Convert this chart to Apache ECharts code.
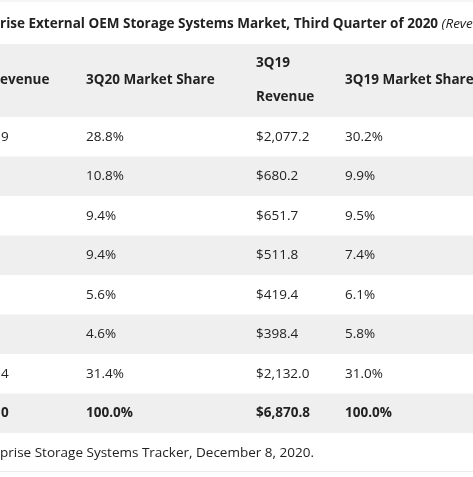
<!DOCTYPE html>
<html><head><meta charset="utf-8">
<script src="https://cdn.jsdelivr.net/npm/echarts@6/dist/echarts.min.js"></script>
<style>html,body{margin:0;padding:0;background:#fff}#c{width:473px;height:477px}</style>
</head><body><div id="c"></div>
<script>
// ---- data ----
const titleText = "rise External OEM Storage Systems Market, Third Quarter of 2020 ";
const titleNote = "(Revenues in US$ Millions)";
const headers = ["evenue", "3Q20 Market Share", "3Q19\nRevenue", "3Q19 Market Share"];
const revenue3Q20Visible = ["9", "", "", "", "", "", "4", "0"]; // only trailing characters visible
const share3Q20 = [28.8, 10.8, 9.4, 9.4, 5.6, 4.6, 31.4, 100.0];
const revenue3Q19 = [2077.2, 680.2, 651.7, 511.8, 419.4, 398.4, 2132.0, 6870.8];
const share3Q19 = [30.2, 9.9, 9.5, 7.4, 6.1, 5.8, 31.0, 100.0];
const footerText = "prise Storage Systems Tracker, December 8, 2020.";

// ---- layout ----
const colX = [1, 86, 256, 345];
const FONT = '"Open Sans", sans-serif';
const FS = '13.5px ';
const TXT = '#222222';
const GRAY = '#efefef';

function fmtPct(v){ return v.toFixed(1) + '%'; }
function fmtMoney(v){
  const s = v.toFixed(1).split('.');
  return '$' + s[0].replace(/\B(?=(\d{3})+(?!\d))/g, ',') + '.' + s[1];
}

const nRows = share3Q20.length;
const rowIdx = share3Q20.map((_, i) => i);
const cells = [];
for (let i = 0; i < nRows; i++) {
  const bold = i === nRows - 1 ? 1 : 0;
  cells.push([colX[0], i, revenue3Q20Visible[i], bold]);
  cells.push([colX[1], i, fmtPct(share3Q20[i]), bold]);
  cells.push([colX[2], i, fmtMoney(revenue3Q19[i]), bold]);
  cells.push([colX[3], i, fmtPct(share3Q19[i]), bold]);
}

const chart = echarts.init(document.getElementById('c'), null, {renderer: 'canvas'});
chart.setOption({
  animation: false,
  backgroundColor: '#fff',
  grid: {left: 0, right: 0, top: 117, height: 316},
  xAxis: {type: 'value', min: 0, max: 473, show: false},
  yAxis: {type: 'category', data: rowIdx, inverse: true, show: false},
  graphic: [
    {type: 'rect', shape: {x: 0, y: 0, width: 473, height: 2}, style: {fill: '#f6f6f6'}},
    {type: 'text', x: 0, y: 24, style: {
      text: '{b|' + titleText + '}{i|' + titleNote + '}',
      verticalAlign: 'middle',
      rich: {
        b: {fontFamily: FONT, fontSize: 13.5, fontWeight: 'bold', fill: TXT},
        i: {fontFamily: FONT, fontSize: 13.5, fontStyle: 'italic', fill: TXT}
      }
    }},
    {type: 'rect', shape: {x: 0, y: 44, width: 473, height: 73}, style: {fill: GRAY}},
    {type: 'text', x: colX[0] - 1, y: 80, style: {text: headers[0], font: 'bold ' + FS + FONT, fill: TXT, verticalAlign: 'middle'}},
    {type: 'text', x: colX[1], y: 80, style: {text: headers[1], font: 'bold ' + FS + FONT, fill: TXT, verticalAlign: 'middle'}},
    {type: 'text', x: colX[2], y: 80, style: {text: headers[2], font: 'bold ' + FS + FONT, lineHeight: 34, fill: TXT, verticalAlign: 'middle'}},
    {type: 'text', x: colX[3], y: 80, style: {text: headers[3], font: 'bold ' + FS + FONT, fill: TXT, verticalAlign: 'middle'}},
    {type: 'text', x: 0, y: 453, style: {text: footerText, font: FS + FONT, fill: TXT, verticalAlign: 'middle'}},
    {type: 'rect', shape: {x: 0, y: 471, width: 473, height: 1}, style: {fill: '#ececec'}}
  ],
  series: [
    {
      type: 'custom', silent: true,
      data: rowIdx.map(i => [0, i]),
      renderItem: function (params, api) {
        const i = api.value(1);
        const p = api.coord([0, i]);
        const h = api.size([0, 1])[1];
        return {type: 'rect', shape: {x: 0, y: p[1] - h / 2, width: params.coordSys.width, height: h},
          style: {fill: i % 2 === 1 ? GRAY : '#ffffff'}};
      }
    },
    {
      type: 'custom', silent: true,
      data: cells,
      renderItem: function (params, api) {
        const p = api.coord([api.value(0), api.value(1)]);
        const d = cells[params.dataIndex];
        return {type: 'text', x: p[0], y: p[1], style: {
          text: d[2], font: (d[3] ? 'bold ' : '') + FS + FONT, fill: TXT, verticalAlign: 'middle'}};
      }
    }
  ]
});
</script></body></html>
